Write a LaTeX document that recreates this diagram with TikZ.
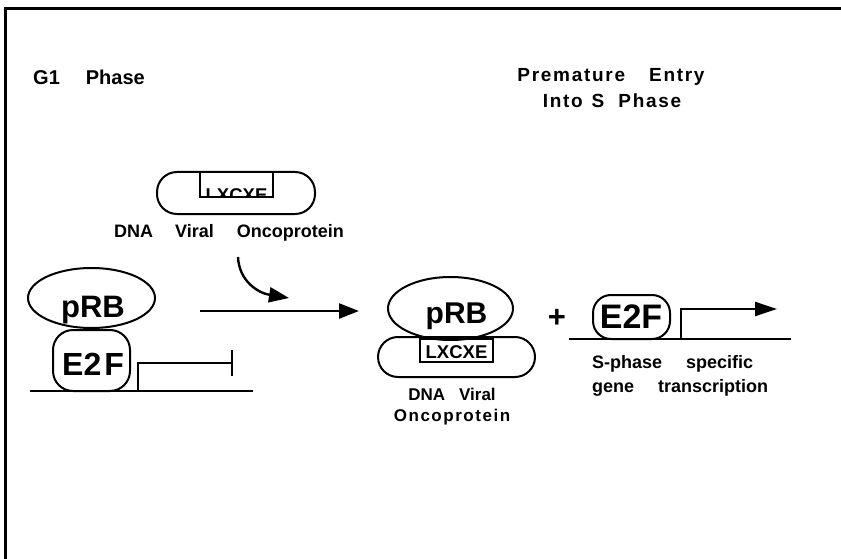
\documentclass[tikz,border=0pt]{standalone}
\usepackage{fontspec}
\setmainfont{Liberation Sans}
\newfontfamily\spcfont{Liberation Sans}[LetterSpace=9]
\usetikzlibrary{arrows.meta,shapes.geometric}
\begin{document}
\begin{tikzpicture}[x=1pt,y=-1pt,
  txt/.style={inner sep=0pt, anchor=base},
  fs/.style={font=\bfseries\fontsize{#1}{#1}\selectfont},
  sfs/.style={font=\spcfont\bfseries\fontsize{#1}{#1}\selectfont},
  shp/.style={draw, line width=2pt, inner sep=0pt},
  capsule/.style={shp, rectangle, rounded corners=20pt},
  motif/.style={shp, rectangle, line width=1.7pt},
  prot/.style={shp, ellipse},
  dna/.style={line width=2.6pt},
  conn/.style={line width=2.4pt},
  tip/.style={-{Triangle[length=20pt,width=15pt]}}
]
\useasboundingbox (0,0) rectangle (841,559);
% frame
\coordinate (f1) at (5.5,559);
\coordinate (f2) at (5.5,8.5);
\coordinate (f3) at (841,8.5);
\draw[line width=3pt] (f1) -- (f2) -- (f3);

% titles
\node[txt, fs=20, anchor=base west] (g1) at (33,85) {G1\hspace{26pt}Phase};
\node[txt, sfs=19] (pre) at (611,82) {Premature\hspace{24pt}Entry};
\node[txt, sfs=19] (into) at (612,108) {Into\hspace{9pt}S\hspace{14pt}Phase};

% free oncoprotein
\node[capsule, minimum width=158pt, minimum height=42pt] (oncoT) at (236,193) {};
\node[motif, minimum width=73pt, minimum height=25pt] (lxT) at (236.5,184.5) {};
\begin{scope}
\clip (lxT.south west) rectangle (lxT.north east);
\node[txt, fs=18.5] (lxTt) at (236.5,201) {LXCXE};
\end{scope}
\node[txt, fs=18] (oncoTl) at (229,237) {DNA\hspace{22pt}Viral\hspace{23pt}Oncoprotein};

% curved arrow
\coordinate (cA) at (238,257);
\coordinate (cB) at (289,298);
\draw[conn, tip] (cA) .. controls (239,281) and (258,293) .. (cB);

% left complex
\node[prot, minimum width=127pt, minimum height=60pt] (pRBL) at (91.5,298) {};
\node[txt, fs=31] (pRBLt) at (93,317) {pRB};
\node[capsule, minimum width=77pt, minimum height=61pt] (e2fL) at (91.5,360.5) {};
\node[txt, fs=32] (e2fLt) at (93,375) {E2\hspace{3pt}F};
\coordinate (dL1) at (30,391);
\coordinate (dL2) at (253,391);
\draw[dna] (dL1) -- (dL2);
\coordinate (pL) at (138,391);
\coordinate (pLc) at (138,363);
\coordinate (pLe) at (233,363);
\draw[conn, -{Bar[width=26pt,line width=2pt]}] (pL) -- (pLc) -- (pLe);

% main arrow
\coordinate (mA) at (200,311);
\coordinate (mB) at (359,311);
\draw[conn, tip] (mA) -- (mB);

% right complex
\node[capsule, minimum width=157pt, minimum height=40pt] (oncoR) at (456.5,357) {};
\node[motif, minimum width=73pt, minimum height=23pt] (lxR) at (456.5,350.5) {};
\node[txt, fs=18.5] (lxRt) at (456.5,358) {LXCXE};
\node[prot, minimum width=125pt, minimum height=63pt] (pRBR) at (450.5,308.5) {};
\node[txt, fs=30] (pRBRt) at (456.5,323) {pRB};
\node[txt, fs=17] (oncoR1) at (452,400) {DNA\hspace{14pt}Viral};
\node[txt, sfs=17] (oncoR2) at (452,421) {Oncoprotein};

% plus
\node[txt, fs=31] (plus) at (557,327) {+};

% free E2F
\node[capsule, rounded corners=18pt, minimum width=77pt, minimum height=44pt] (e2fR) at (631.5,317) {};
\node[txt, fs=34] (e2fRt) at (631,328) {E2F};
\coordinate (dR1) at (569,339);
\coordinate (dR2) at (791,339);
\draw[dna] (dR1) -- (dR2);
\coordinate (pR) at (681,339);
\coordinate (pRc) at (681,309);
\coordinate (pRe) at (777,309);
\draw[conn, -{Triangle[length=22pt,width=14pt]}] (pR) -- (pRc) -- (pRe);
\node[txt, fs=18, anchor=base west] (sph1) at (592,368) {S-phase\hspace{24pt}specific};
\node[txt, fs=18, anchor=base west] (sph2) at (592,392) {gene\hspace{24pt}transcription};
\end{tikzpicture}
\end{document}
